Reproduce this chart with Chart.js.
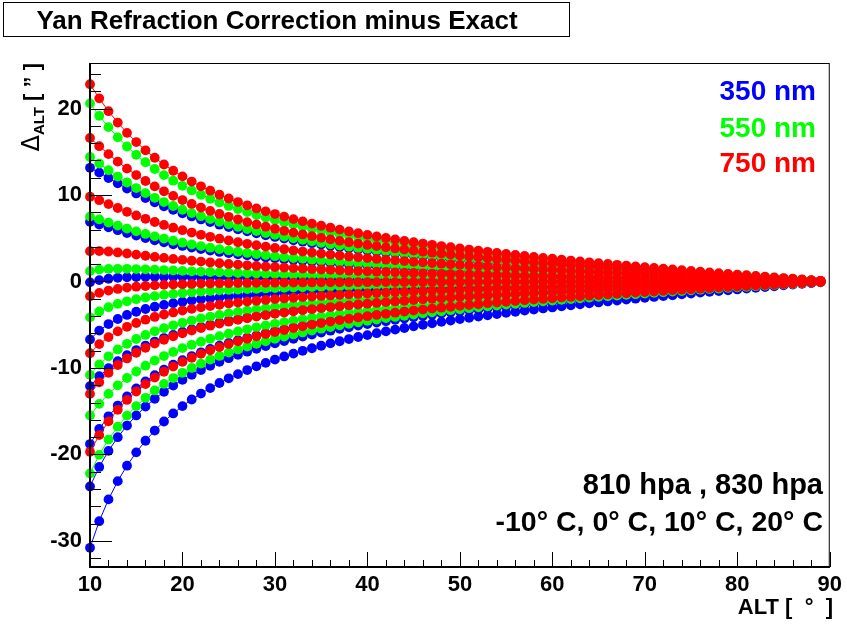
<!DOCTYPE html>
<html>
<head>
<meta charset="utf-8">
<title>Yan Refraction Correction minus Exact</title>
<script src="https://cdn.jsdelivr.net/npm/chart.js@4.4.1/dist/chart.umd.min.js"></script>
<style>
    html, body { margin: 0; padding: 0; background: #fff; }
    #chart { display: block; }
</style>
</head>
<body>
<canvas id="chart" width="847" height="626"></canvas>
<script>
'use strict';

// altitude [deg], one point per degree
var alts = [
    10, 11, 12, 13, 14, 15, 16, 17, 18, 19,
    20, 21, 22, 23, 24, 25, 26, 27, 28, 29,
    30, 31, 32, 33, 34, 35, 36, 37, 38, 39,
    40, 41, 42, 43, 44, 45, 46, 47, 48, 49,
    50, 51, 52, 53, 54, 55, 56, 57, 58, 59,
    60, 61, 62, 63, 64, 65, 66, 67, 68, 69,
    70, 71, 72, 73, 74, 75, 76, 77, 78, 79,
    80, 81, 82, 83, 84, 85, 86, 87, 88, 89
];

// 750 nm curves (top to bottom at ALT = 10)
var red1 = [
    22.81, 21.18, 19.70, 18.38, 17.19, 16.13, 15.17, 14.31, 13.53, 12.81,
    12.16, 11.56, 11.01, 10.50, 10.03, 9.60, 9.19, 8.81, 8.45, 8.11,
    7.80, 7.50, 7.21, 6.95, 6.69, 6.45, 6.22, 6.00, 5.79, 5.59,
    5.39, 5.21, 5.03, 4.86, 4.70, 4.54, 4.39, 4.24, 4.10, 3.96,
    3.82, 3.69, 3.56, 3.43, 3.31, 3.19, 3.07, 2.95, 2.84, 2.73,
    2.63, 2.52, 2.42, 2.32, 2.22, 2.12, 2.03, 1.93, 1.84, 1.75,
    1.66, 1.57, 1.48, 1.39, 1.30, 1.22, 1.13, 1.05, 0.97, 0.88,
    0.80, 0.72, 0.64, 0.56, 0.48, 0.40, 0.32, 0.24, 0.16, 0.08
];
var red2 = [
    16.60, 15.65, 14.73, 13.86, 13.05, 12.31, 11.62, 11.00, 10.43, 9.90,
    9.42, 8.97, 8.55, 8.17, 7.81, 7.48, 7.17, 6.87, 6.60, 6.34,
    6.10, 5.86, 5.65, 5.44, 5.24, 5.05, 4.87, 4.70, 4.54, 4.38,
    4.23, 4.09, 3.95, 3.82, 3.69, 3.57, 3.45, 3.33, 3.22, 3.11,
    3.00, 2.90, 2.80, 2.70, 2.60, 2.51, 2.41, 2.32, 2.24, 2.15,
    2.07, 1.98, 1.90, 1.82, 1.75, 1.67, 1.59, 1.52, 1.45, 1.37,
    1.30, 1.23, 1.16, 1.09, 1.03, 0.96, 0.89, 0.83, 0.76, 0.70,
    0.63, 0.57, 0.50, 0.44, 0.38, 0.31, 0.25, 0.19, 0.12, 0.06
];
var red3 = [
    9.80, 9.40, 8.95, 8.50, 8.06, 7.64, 7.25, 6.88, 6.54, 6.22,
    5.93, 5.66, 5.40, 5.17, 4.95, 4.74, 4.54, 4.36, 4.19, 4.03,
    3.88, 3.73, 3.59, 3.46, 3.34, 3.22, 3.11, 3.00, 2.89, 2.80,
    2.70, 2.61, 2.52, 2.44, 2.36, 2.28, 2.21, 2.13, 2.06, 1.99,
    1.92, 1.85, 1.79, 1.73, 1.66, 1.60, 1.54, 1.49, 1.43, 1.38,
    1.32, 1.27, 1.22, 1.17, 1.12, 1.07, 1.02, 0.97, 0.93, 0.88,
    0.83, 0.79, 0.74, 0.70, 0.66, 0.61, 0.57, 0.53, 0.49, 0.45,
    0.40, 0.36, 0.32, 0.28, 0.24, 0.20, 0.16, 0.12, 0.08, 0.04
];
var red4 = [
    3.50, 3.52, 3.47, 3.36, 3.24, 3.11, 2.98, 2.85, 2.73, 2.61,
    2.50, 2.40, 2.30, 2.20, 2.11, 2.03, 1.95, 1.87, 1.80, 1.73,
    1.67, 1.61, 1.55, 1.50, 1.44, 1.39, 1.35, 1.30, 1.25, 1.21,
    1.17, 1.13, 1.10, 1.06, 1.02, 0.99, 0.95, 0.92, 0.89, 0.86,
    0.83, 0.81, 0.78, 0.75, 0.72, 0.70, 0.67, 0.65, 0.62, 0.60,
    0.58, 0.55, 0.53, 0.51, 0.49, 0.47, 0.45, 0.42, 0.40, 0.38,
    0.36, 0.34, 0.32, 0.31, 0.29, 0.27, 0.25, 0.23, 0.21, 0.19,
    0.18, 0.16, 0.14, 0.12, 0.11, 0.09, 0.07, 0.05, 0.03, 0.02
];
var red5 = [
    -1.70, -1.32, -1.05, -0.86, -0.71, -0.60, -0.52, -0.45, -0.39, -0.35,
    -0.31, -0.28, -0.25, -0.23, -0.21, -0.20, -0.18, -0.17, -0.16, -0.15,
    -0.14, -0.13, -0.12, -0.11, -0.11, -0.10, -0.10, -0.09, -0.09, -0.08,
    -0.08, -0.07, -0.07, -0.07, -0.06, -0.06, -0.06, -0.05, -0.05, -0.05,
    -0.05, -0.05, -0.04, -0.04, -0.04, -0.04, -0.04, -0.04, -0.03, -0.03,
    -0.03, -0.03, -0.03, -0.03, -0.03, -0.03, -0.02, -0.02, -0.02, -0.02,
    -0.02, -0.02, -0.02, -0.02, -0.02, -0.02, -0.01, -0.01, -0.01, -0.01,
    -0.01, -0.01, -0.01, -0.01, -0.01, -0.01, 0.00, 0.00, 0.00, 0.00
];
var red6 = [
    -8.30, -7.24, -6.43, -5.77, -5.24, -4.80, -4.42, -4.10, -3.82, -3.58,
    -3.36, -3.17, -2.99, -2.84, -2.69, -2.56, -2.44, -2.33, -2.23, -2.13,
    -2.04, -1.96, -1.88, -1.81, -1.74, -1.67, -1.61, -1.55, -1.49, -1.44,
    -1.39, -1.34, -1.29, -1.24, -1.20, -1.16, -1.12, -1.08, -1.04, -1.00,
    -0.97, -0.93, -0.90, -0.87, -0.84, -0.81, -0.78, -0.75, -0.72, -0.69,
    -0.66, -0.64, -0.61, -0.59, -0.56, -0.54, -0.51, -0.49, -0.46, -0.44,
    -0.42, -0.40, -0.37, -0.35, -0.33, -0.31, -0.29, -0.27, -0.24, -0.22,
    -0.20, -0.18, -0.16, -0.14, -0.12, -0.10, -0.08, -0.06, -0.04, -0.02
];
var red7 = [
    -13.00, -11.66, -10.57, -9.66, -8.90, -8.24, -7.67, -7.18, -6.74, -6.34,
    -5.99, -5.67, -5.38, -5.11, -4.87, -4.65, -4.44, -4.25, -4.06, -3.90,
    -3.74, -3.59, -3.45, -3.32, -3.20, -3.08, -2.96, -2.86, -2.76, -2.66,
    -2.57, -2.48, -2.39, -2.31, -2.23, -2.15, -2.07, -2.00, -1.93, -1.86,
    -1.80, -1.74, -1.68, -1.62, -1.56, -1.50, -1.45, -1.39, -1.34, -1.29,
    -1.24, -1.19, -1.14, -1.09, -1.05, -1.00, -0.95, -0.91, -0.87, -0.82,
    -0.78, -0.74, -0.70, -0.66, -0.61, -0.57, -0.53, -0.50, -0.46, -0.42,
    -0.38, -0.34, -0.30, -0.26, -0.23, -0.19, -0.15, -0.11, -0.07, -0.04
];
var red8 = [
    -19.70, -17.77, -16.18, -14.84, -13.70, -12.72, -11.87, -11.11, -10.44, -9.84,
    -9.30, -8.82, -8.37, -7.96, -7.59, -7.24, -6.92, -6.62, -6.34, -6.08,
    -5.84, -5.61, -5.39, -5.19, -4.99, -4.81, -4.63, -4.47, -4.31, -4.16,
    -4.01, -3.87, -3.74, -3.61, -3.48, -3.36, -3.25, -3.13, -3.03, -2.92,
    -2.82, -2.72, -2.63, -2.53, -2.44, -2.35, -2.27, -2.18, -2.10, -2.02,
    -1.94, -1.86, -1.79, -1.71, -1.64, -1.57, -1.50, -1.43, -1.36, -1.29,
    -1.22, -1.16, -1.09, -1.03, -0.96, -0.90, -0.84, -0.78, -0.71, -0.65,
    -0.59, -0.53, -0.47, -0.41, -0.35, -0.29, -0.23, -0.18, -0.12, -0.06
];

// 550 nm curves
var green1 = [
    20.60, 19.16, 17.85, 16.67, 15.61, 14.65, 13.79, 13.01, 12.30, 11.66,
    11.07, 10.53, 10.03, 9.57, 9.14, 8.74, 8.37, 8.02, 7.70, 7.39,
    7.10, 6.83, 6.58, 6.33, 6.10, 5.88, 5.67, 5.47, 5.28, 5.09,
    4.92, 4.75, 4.59, 4.44, 4.29, 4.14, 4.00, 3.87, 3.74, 3.61,
    3.48, 3.36, 3.24, 3.13, 3.01, 2.91, 2.80, 2.70, 2.59, 2.49,
    2.40, 2.30, 2.21, 2.11, 2.02, 1.94, 1.85, 1.76, 1.68, 1.59,
    1.51, 1.43, 1.35, 1.27, 1.19, 1.11, 1.03, 0.96, 0.88, 0.81,
    0.73, 0.66, 0.58, 0.51, 0.44, 0.36, 0.29, 0.22, 0.14, 0.07
];
var green2 = [
    14.40, 13.64, 12.87, 12.14, 11.45, 10.81, 10.22, 9.68, 9.19, 8.73,
    8.30, 7.91, 7.55, 7.21, 6.90, 6.61, 6.33, 6.07, 5.83, 5.60,
    5.39, 5.19, 4.99, 4.81, 4.64, 4.47, 4.31, 4.16, 4.02, 3.88,
    3.75, 3.62, 3.50, 3.38, 3.27, 3.16, 3.06, 2.95, 2.85, 2.75,
    2.66, 2.57, 2.48, 2.39, 2.30, 2.22, 2.14, 2.06, 1.98, 1.90,
    1.83, 1.76, 1.69, 1.62, 1.55, 1.48, 1.41, 1.35, 1.28, 1.22,
    1.15, 1.09, 1.03, 0.97, 0.91, 0.85, 0.79, 0.73, 0.67, 0.62,
    0.56, 0.50, 0.45, 0.39, 0.33, 0.28, 0.22, 0.17, 0.11, 0.06
];
var green3 = [
    7.50, 7.18, 6.82, 6.46, 6.12, 5.80, 5.50, 5.22, 4.96, 4.71,
    4.49, 4.28, 4.09, 3.91, 3.74, 3.59, 3.44, 3.30, 3.17, 3.05,
    2.93, 2.82, 2.72, 2.62, 2.52, 2.43, 2.35, 2.27, 2.19, 2.11,
    2.04, 1.97, 1.91, 1.84, 1.78, 1.72, 1.67, 1.61, 1.56, 1.50,
    1.45, 1.40, 1.35, 1.30, 1.26, 1.21, 1.17, 1.12, 1.08, 1.04,
    1.00, 0.96, 0.92, 0.88, 0.84, 0.81, 0.77, 0.73, 0.70, 0.66,
    0.63, 0.60, 0.56, 0.53, 0.50, 0.46, 0.43, 0.40, 0.37, 0.34,
    0.31, 0.27, 0.24, 0.21, 0.18, 0.15, 0.12, 0.09, 0.06, 0.03
];
var green4 = [
    1.20, 1.37, 1.45, 1.47, 1.47, 1.44, 1.41, 1.37, 1.32, 1.28,
    1.23, 1.18, 1.14, 1.10, 1.06, 1.02, 0.98, 0.95, 0.91, 0.88,
    0.85, 0.82, 0.79, 0.77, 0.74, 0.71, 0.69, 0.67, 0.65, 0.62,
    0.60, 0.59, 0.56, 0.55, 0.53, 0.51, 0.50, 0.48, 0.46, 0.45,
    0.43, 0.42, 0.40, 0.39, 0.38, 0.36, 0.35, 0.34, 0.32, 0.31,
    0.30, 0.29, 0.28, 0.26, 0.25, 0.24, 0.23, 0.22, 0.21, 0.20,
    0.19, 0.18, 0.17, 0.16, 0.15, 0.14, 0.13, 0.12, 0.11, 0.10,
    0.09, 0.08, 0.07, 0.06, 0.05, 0.05, 0.04, 0.03, 0.02, 0.01
];
var green5 = [
    -4.15, -3.47, -2.97, -2.59, -2.29, -2.05, -1.85, -1.69, -1.55, -1.44,
    -1.33, -1.25, -1.17, -1.10, -1.03, -0.98, -0.93, -0.88, -0.84, -0.80,
    -0.76, -0.73, -0.70, -0.67, -0.64, -0.61, -0.59, -0.57, -0.55, -0.53,
    -0.51, -0.48, -0.47, -0.45, -0.43, -0.42, -0.40, -0.39, -0.37, -0.36,
    -0.35, -0.33, -0.32, -0.31, -0.30, -0.29, -0.28, -0.27, -0.26, -0.25,
    -0.24, -0.23, -0.22, -0.21, -0.20, -0.19, -0.18, -0.17, -0.17, -0.16,
    -0.15, -0.14, -0.13, -0.13, -0.12, -0.11, -0.10, -0.09, -0.09, -0.08,
    -0.07, -0.06, -0.06, -0.05, -0.04, -0.04, -0.03, -0.02, -0.01, -0.01
];
var green6 = [
    -10.80, -9.60, -8.65, -7.86, -7.21, -6.65, -6.18, -5.76, -5.40, -5.07,
    -4.78, -4.52, -4.28, -4.07, -3.87, -3.69, -3.52, -3.37, -3.22, -3.09,
    -2.96, -2.84, -2.73, -2.63, -2.53, -2.43, -2.34, -2.26, -2.18, -2.10,
    -2.03, -1.95, -1.89, -1.82, -1.76, -1.70, -1.64, -1.58, -1.52, -1.47,
    -1.42, -1.37, -1.32, -1.27, -1.23, -1.18, -1.14, -1.10, -1.06, -1.02,
    -0.98, -0.94, -0.90, -0.86, -0.82, -0.79, -0.75, -0.72, -0.68, -0.65,
    -0.62, -0.58, -0.55, -0.52, -0.48, -0.45, -0.42, -0.39, -0.36, -0.33,
    -0.30, -0.27, -0.24, -0.21, -0.18, -0.15, -0.12, -0.09, -0.06, -0.03
];
var green7 = [
    -15.50, -14.15, -13.00, -12.01, -11.16, -10.41, -9.74, -9.15, -8.62, -8.15,
    -7.71, -7.32, -6.96, -6.63, -6.32, -6.04, -5.78, -5.53, -5.30, -5.09,
    -4.89, -4.70, -4.52, -4.35, -4.19, -4.03, -3.89, -3.75, -3.62, -3.49,
    -3.37, -3.26, -3.14, -3.03, -2.93, -2.83, -2.73, -2.64, -2.55, -2.46,
    -2.37, -2.29, -2.21, -2.13, -2.06, -1.98, -1.91, -1.84, -1.77, -1.70,
    -1.63, -1.57, -1.50, -1.44, -1.38, -1.32, -1.26, -1.20, -1.14, -1.09,
    -1.03, -0.97, -0.92, -0.87, -0.81, -0.76, -0.71, -0.65, -0.60, -0.55,
    -0.50, -0.45, -0.40, -0.35, -0.30, -0.25, -0.20, -0.15, -0.10, -0.05
];
var green8 = [
    -22.20, -20.05, -18.28, -16.79, -15.51, -14.41, -13.45, -12.60, -11.84, -11.17,
    -10.56, -10.00, -9.50, -9.04, -8.61, -8.22, -7.86, -7.52, -7.20, -6.91,
    -6.63, -6.37, -6.12, -5.89, -5.67, -5.46, -5.26, -5.07, -4.89, -4.72,
    -4.55, -4.40, -4.24, -4.10, -3.96, -3.82, -3.69, -3.56, -3.44, -3.32,
    -3.21, -3.09, -2.98, -2.88, -2.78, -2.67, -2.58, -2.48, -2.39, -2.30,
    -2.21, -2.12, -2.03, -1.95, -1.86, -1.78, -1.70, -1.62, -1.54, -1.47,
    -1.39, -1.32, -1.24, -1.17, -1.10, -1.02, -0.95, -0.88, -0.81, -0.74,
    -0.67, -0.61, -0.54, -0.47, -0.40, -0.33, -0.27, -0.20, -0.13, -0.07
];

// 350 nm curves
var blue1 = [
    13.15, 12.59, 11.97, 11.35, 10.75, 10.18, 9.65, 9.16, 8.70, 8.28,
    7.89, 7.52, 7.18, 6.87, 6.57, 6.30, 6.04, 5.80, 5.57, 5.35,
    5.15, 4.96, 4.77, 4.60, 4.43, 4.28, 4.13, 3.98, 3.84, 3.71,
    3.59, 3.47, 3.36, 3.24, 3.14, 3.03, 2.93, 2.83, 2.74, 2.64,
    2.55, 2.46, 2.38, 2.29, 2.21, 2.13, 2.05, 1.97, 1.90, 1.83,
    1.76, 1.69, 1.62, 1.55, 1.48, 1.42, 1.35, 1.29, 1.23, 1.17,
    1.11, 1.05, 0.99, 0.93, 0.87, 0.81, 0.76, 0.70, 0.65, 0.59,
    0.54, 0.48, 0.43, 0.37, 0.32, 0.27, 0.21, 0.16, 0.11, 0.05
];
var blue2 = [
    6.90, 6.59, 6.26, 5.93, 5.61, 5.31, 5.03, 4.77, 4.53, 4.31,
    4.11, 3.92, 3.74, 3.57, 3.42, 3.28, 3.14, 3.02, 2.90, 2.78,
    2.68, 2.58, 2.48, 2.39, 2.31, 2.22, 2.15, 2.07, 2.00, 1.93,
    1.86, 1.80, 1.74, 1.68, 1.63, 1.57, 1.52, 1.47, 1.42, 1.37,
    1.33, 1.28, 1.23, 1.19, 1.15, 1.11, 1.07, 1.03, 0.99, 0.95,
    0.91, 0.88, 0.84, 0.81, 0.77, 0.74, 0.70, 0.67, 0.64, 0.61,
    0.58, 0.54, 0.51, 0.48, 0.45, 0.42, 0.39, 0.36, 0.34, 0.31,
    0.28, 0.25, 0.22, 0.19, 0.17, 0.14, 0.11, 0.08, 0.06, 0.03
];
var blue3 = [
    -0.10, 0.16, 0.32, 0.43, 0.49, 0.52, 0.54, 0.55, 0.55, 0.54,
    0.54, 0.52, 0.51, 0.50, 0.49, 0.47, 0.46, 0.45, 0.43, 0.42,
    0.41, 0.39, 0.38, 0.37, 0.36, 0.35, 0.34, 0.32, 0.31, 0.31,
    0.30, 0.29, 0.28, 0.27, 0.26, 0.25, 0.25, 0.24, 0.23, 0.22,
    0.22, 0.21, 0.20, 0.20, 0.19, 0.18, 0.17, 0.17, 0.16, 0.16,
    0.15, 0.14, 0.14, 0.13, 0.13, 0.12, 0.12, 0.11, 0.10, 0.10,
    0.09, 0.09, 0.08, 0.08, 0.07, 0.07, 0.06, 0.06, 0.06, 0.05,
    0.05, 0.04, 0.04, 0.03, 0.03, 0.02, 0.02, 0.01, 0.01, 0.00
];
var blue4 = [
    -6.70, -5.68, -4.92, -4.34, -3.87, -3.50, -3.18, -2.92, -2.70, -2.51,
    -2.34, -2.19, -2.06, -1.94, -1.84, -1.74, -1.65, -1.57, -1.50, -1.43,
    -1.37, -1.31, -1.26, -1.20, -1.16, -1.11, -1.07, -1.03, -0.99, -0.95,
    -0.92, -0.88, -0.85, -0.82, -0.79, -0.76, -0.73, -0.71, -0.68, -0.66,
    -0.63, -0.61, -0.59, -0.57, -0.55, -0.53, -0.51, -0.49, -0.47, -0.45,
    -0.43, -0.42, -0.40, -0.38, -0.37, -0.35, -0.33, -0.32, -0.30, -0.29,
    -0.27, -0.26, -0.24, -0.23, -0.22, -0.20, -0.19, -0.17, -0.16, -0.15,
    -0.13, -0.12, -0.11, -0.09, -0.08, -0.07, -0.05, -0.04, -0.03, -0.01
];
var blue5 = [
    -12.10, -10.96, -10.02, -9.22, -8.53, -7.93, -7.41, -6.95, -6.54, -6.17,
    -5.83, -5.53, -5.25, -5.00, -4.77, -4.55, -4.35, -4.16, -3.99, -3.82,
    -3.67, -3.53, -3.39, -3.26, -3.14, -3.03, -2.92, -2.81, -2.71, -2.62,
    -2.53, -2.44, -2.35, -2.27, -2.20, -2.12, -2.05, -1.98, -1.91, -1.84,
    -1.78, -1.72, -1.66, -1.60, -1.54, -1.48, -1.43, -1.38, -1.32, -1.27,
    -1.22, -1.18, -1.13, -1.08, -1.03, -0.99, -0.94, -0.90, -0.86, -0.81,
    -0.77, -0.73, -0.69, -0.65, -0.61, -0.57, -0.53, -0.49, -0.45, -0.41,
    -0.37, -0.34, -0.30, -0.26, -0.22, -0.19, -0.15, -0.11, -0.07, -0.04
];
var blue6 = [
    -18.80, -17.05, -15.59, -14.35, -13.29, -12.36, -11.55, -10.83, -10.19, -9.62,
    -9.10, -8.62, -8.19, -7.80, -7.43, -7.10, -6.79, -6.50, -6.23, -5.97,
    -5.73, -5.51, -5.30, -5.10, -4.91, -4.73, -4.56, -4.39, -4.24, -4.09,
    -3.94, -3.81, -3.68, -3.55, -3.43, -3.31, -3.20, -3.09, -2.98, -2.88,
    -2.78, -2.68, -2.59, -2.49, -2.40, -2.32, -2.23, -2.15, -2.07, -1.99,
    -1.91, -1.83, -1.76, -1.69, -1.61, -1.54, -1.47, -1.41, -1.34, -1.27,
    -1.20, -1.14, -1.08, -1.01, -0.95, -0.89, -0.83, -0.76, -0.70, -0.64,
    -0.58, -0.52, -0.47, -0.41, -0.35, -0.29, -0.23, -0.17, -0.12, -0.06
];
var blue7 = [
    -23.70, -21.45, -19.59, -18.01, -16.66, -15.49, -14.47, -13.56, -12.75, -12.03,
    -11.38, -10.79, -10.25, -9.75, -9.29, -8.87, -8.48, -8.12, -7.78, -7.46,
    -7.16, -6.88, -6.62, -6.37, -6.13, -5.90, -5.69, -5.48, -5.29, -5.10,
    -4.92, -4.75, -4.59, -4.43, -4.28, -4.13, -3.99, -3.85, -3.72, -3.59,
    -3.47, -3.34, -3.23, -3.11, -3.00, -2.89, -2.79, -2.68, -2.58, -2.48,
    -2.38, -2.29, -2.20, -2.10, -2.01, -1.93, -1.84, -1.75, -1.67, -1.59,
    -1.50, -1.42, -1.34, -1.26, -1.18, -1.11, -1.03, -0.95, -0.88, -0.80,
    -0.73, -0.65, -0.58, -0.51, -0.43, -0.36, -0.29, -0.22, -0.14, -0.07
];
var blue8 = [
    -30.80, -27.72, -25.20, -23.09, -21.30, -19.76, -18.42, -17.24, -16.19, -15.26,
    -14.41, -13.65, -12.96, -12.33, -11.74, -11.20, -10.71, -10.24, -9.81, -9.41,
    -9.03, -8.67, -8.34, -8.02, -7.72, -7.43, -7.16, -6.91, -6.66, -6.42,
    -6.20, -5.98, -5.77, -5.57, -5.38, -5.19, -5.01, -4.84, -4.67, -4.51,
    -4.35, -4.20, -4.05, -3.91, -3.77, -3.63, -3.50, -3.37, -3.24, -3.12,
    -3.00, -2.88, -2.76, -2.64, -2.53, -2.42, -2.31, -2.20, -2.10, -1.99,
    -1.89, -1.79, -1.69, -1.59, -1.49, -1.39, -1.29, -1.20, -1.10, -1.01,
    -0.92, -0.82, -0.73, -0.64, -0.55, -0.45, -0.36, -0.27, -0.18, -0.09
];

// axis ticks and texts
var xTicks = [10, 20, 30, 40, 50, 60, 70, 80, 90];
var yTicks = [-30, -20, -10, 0, 10, 20];
var legendLabels = ['350 nm', '550 nm', '750 nm'];
var conditionLines = ['810 hpa , 830 hpa', '-10\u00b0 C, 0\u00b0 C, 10\u00b0 C, 20\u00b0 C'];
var titleText = 'Yan Refraction Correction minus Exact';

var FONT = '"Liberation Sans", Arial, Helvetica, sans-serif';
var RED = '#ff0000';
var GREEN = '#00ff00';
var BLUE = '#0000ff';

function makeDataset(values, color) {
    return {
        data: alts.map(function(a, i) { return { x: a, y: values[i] }; }),
        borderColor: color,
        backgroundColor: color,
        borderWidth: 1,
        pointRadius: 4.9,
        pointHoverRadius: 4.9,
        pointBorderWidth: 0,
        pointBackgroundColor: color,
        tension: 0,
        fill: false,
        clip: false
    };
}

// dataset 0 is painted last, so reds go first to sit on top like the original
var datasets = [];
[red1, red2, red3, red4, red5, red6, red7, red8].forEach(function(s) { datasets.push(makeDataset(s, RED)); });
[green1, green2, green3, green4, green5, green6, green7, green8].forEach(function(s) { datasets.push(makeDataset(s, GREEN)); });
[blue1, blue2, blue3, blue4, blue5, blue6, blue7, blue8].forEach(function(s) { datasets.push(makeDataset(s, BLUE)); });

// frame, inward ticks and all the free text (ROOT look)
var rootFrame = {
    id: 'rootFrame',
    afterDraw: function(chart) {
        var ctx = chart.ctx;
        var area = chart.chartArea;
        var xs = chart.scales.x;
        var ys = chart.scales.y;
        var v, p, len;

        ctx.save();
        ctx.strokeStyle = '#000';
        ctx.fillStyle = '#000';

        // frame
        ctx.lineWidth = 1;
        ctx.strokeRect(area.left + 0.5, area.top + 0.5, area.right - area.left - 1, area.bottom - area.top);
        ctx.lineWidth = 2;
        ctx.beginPath();
        ctx.moveTo(area.left, area.top);
        ctx.lineTo(area.left, area.bottom);
        ctx.lineTo(area.right, area.bottom);
        ctx.stroke();

        // ticks
        ctx.lineWidth = 1;
        ctx.beginPath();
        for (v = -32; v <= 24; v += 2) {
            p = Math.round(ys.getPixelForValue(v)) + 0.5;
            len = v % 10 === 0 ? 22 : 11;
            ctx.moveTo(area.left, p);
            ctx.lineTo(area.left + len, p);
        }
        for (v = 10; v <= 90; v += 2) {
            p = Math.round(xs.getPixelForValue(v)) + 0.5;
            len = v % 10 === 0 ? 15 : 7;
            ctx.moveTo(p, area.bottom);
            ctx.lineTo(p, area.bottom - len);
        }
        ctx.stroke();

        // title box
        ctx.lineWidth = 1;
        ctx.strokeRect(3.5, 2.5, 566, 34);
        ctx.font = 'bold 26px ' + FONT;
        ctx.textAlign = 'center';
        ctx.textBaseline = 'alphabetic';
        ctx.fillText(titleText, 277, 29);

        // wavelength legend
        ctx.font = 'bold 28px ' + FONT;
        ctx.textAlign = 'right';
        ctx.fillStyle = BLUE;
        ctx.fillText(legendLabels[0], 816, 100);
        ctx.fillStyle = GREEN;
        ctx.fillText(legendLabels[1], 816, 137);
        ctx.fillStyle = RED;
        ctx.fillText(legendLabels[2], 816, 172);

        // conditions
        ctx.fillStyle = '#000';
        ctx.font = 'bold 29px ' + FONT;
        ctx.fillText(conditionLines[0], 823, 494);
        ctx.font = 'bold 28.5px ' + FONT;
        ctx.fillText(conditionLines[1], 823, 531);

        // x title
        ctx.font = 'bold 22px ' + FONT;
        ctx.fillText('ALT [  \u00b0  ]', 833, 614);

        drawYTitle(ctx, area);
        ctx.restore();
    }
};

function drawYTitle(ctx, area) {
    var parts = [
        { text: '\u0394', font: '24px "DejaVu Sans"', dy: 0 },
        { text: 'ALT', font: 'bold 15px ' + FONT, dy: 5 },
        { text: ' [ \u201d ]', font: 'bold 22px ' + FONT, dy: 0 }
    ];
    var total = 0;
    parts.forEach(function(pt) {
        ctx.font = pt.font;
        pt.w = ctx.measureText(pt.text).width;
        total += pt.w;
    });
    ctx.save();
    ctx.translate(39, area.top + total);
    ctx.rotate(-Math.PI / 2);
    ctx.textAlign = 'left';
    ctx.textBaseline = 'alphabetic';
    var t = 0;
    parts.forEach(function(pt) {
        ctx.font = pt.font;
        ctx.fillText(pt.text, t, pt.dy);
        t += pt.w;
    });
    ctx.restore();
}

new Chart(document.getElementById('chart'), {
    type: 'line',
    data: { datasets: datasets },
    options: {
        responsive: false,
        devicePixelRatio: 1,
        animation: false,
        events: [],
        layout: { padding: { top: 63, right: 14, left: 0, bottom: 0 } },
        plugins: {
            legend: { display: false },
            tooltip: { enabled: false },
            title: { display: false }
        },
        scales: {
            x: {
                type: 'linear',
                min: 10,
                max: 90,
                grid: { display: false, drawTicks: false },
                border: { display: false },
                afterBuildTicks: function(scale) {
                    scale.ticks = xTicks.map(function(v) { return { value: v }; });
                },
                afterFit: function(scale) { scale.height = 59; },
                ticks: {
                    color: '#000',
                    font: { family: FONT, size: 22, weight: 'bold' },
                    padding: 5,
                    maxRotation: 0,
                    autoSkip: false
                }
            },
            y: {
                type: 'linear',
                min: -33.02,
                max: 25.27,
                grid: { display: false, drawTicks: false },
                border: { display: false },
                afterBuildTicks: function(scale) {
                    scale.ticks = yTicks.map(function(v) { return { value: v }; });
                },
                afterFit: function(scale) { scale.width = 90; },
                ticks: {
                    color: '#000',
                    font: { family: FONT, size: 22, weight: 'bold' },
                    padding: 8
                }
            }
        }
    },
    plugins: [rootFrame]
});
</script>
</body>
</html>
